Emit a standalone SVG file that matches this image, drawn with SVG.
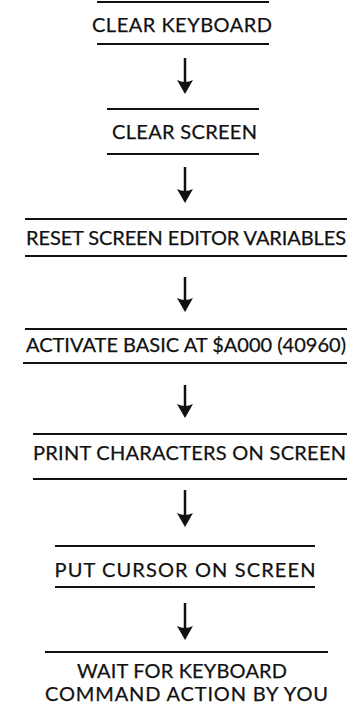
<svg xmlns="http://www.w3.org/2000/svg" width="358" height="718" viewBox="0 0 358 718">
<style>
.rule{stroke:#111;stroke-width:2;fill:none}
.lbl{font-family:Lato,"Open Sans","Liberation Sans",sans-serif;font-size:20px;fill:#111;stroke:#111;stroke-width:0.25;text-anchor:middle}
.conn{stroke:#111;stroke-width:2.5;fill:none}
</style>
<defs>
<marker id="ah" markerUnits="userSpaceOnUse" viewBox="0 0 14 16" markerWidth="14" markerHeight="16" refX="10" refY="8" orient="auto">
<path d="M0,0 Q4,8 0,16 L14,8 Z" fill="#111"/>
</marker>
</defs>
<rect width="358" height="718" fill="#fff"/>
<g id="n1">
<line class="rule" x1="97" y1="2" x2="269" y2="2"/>
<text class="lbl" x="182" y="31.5" textLength="180">CLEAR KEYBOARD</text>
<line class="rule" x1="97" y1="44" x2="269" y2="44"/>
</g>
<g id="n2">
<line class="rule" x1="107" y1="109" x2="259" y2="109"/>
<text class="lbl" x="184.5" y="138.5" textLength="145">CLEAR SCREEN</text>
<line class="rule" x1="107" y1="154" x2="259" y2="154"/>
</g>
<g id="n3">
<line class="rule" x1="25" y1="219" x2="347" y2="219"/>
<text class="lbl" x="186" y="245" textLength="320">RESET SCREEN EDITOR VARIABLES</text>
<line class="rule" x1="25" y1="256" x2="347" y2="256"/>
</g>
<g id="n4">
<line class="rule" x1="25" y1="329" x2="347" y2="329"/>
<text class="lbl" x="186" y="351.5" textLength="320">ACTIVATE BASIC AT $A000 (40960)</text>
<line class="rule" x1="23" y1="363" x2="347" y2="363"/>
</g>
<g id="n5">
<line class="rule" x1="33" y1="434" x2="347" y2="434"/>
<text class="lbl" x="189.5" y="459.5" textLength="313">PRINT CHARACTERS ON SCREEN</text>
<line class="rule" x1="33" y1="479" x2="347" y2="479"/>
</g>
<g id="n6">
<line class="rule" x1="55" y1="546" x2="315" y2="546"/>
<text class="lbl" x="185" y="577" textLength="261">PUT CURSOR ON SCREEN</text>
<line class="rule" x1="55" y1="587" x2="315" y2="587"/>
</g>
<g id="n7">
<line class="rule" x1="45" y1="652" x2="328" y2="652"/>
<text class="lbl" x="182" y="678" textLength="210">WAIT FOR KEYBOARD</text>
<text class="lbl" x="186.5" y="701" textLength="283">COMMAND ACTION BY YOU</text>
</g>
<g id="connectors">
<line class="conn" x1="185" y1="58" x2="185" y2="90" marker-end="url(#ah)"/>
<line class="conn" x1="185" y1="167" x2="185" y2="199" marker-end="url(#ah)"/>
<line class="conn" x1="185" y1="277" x2="185" y2="308" marker-end="url(#ah)"/>
<line class="conn" x1="185" y1="385" x2="185" y2="414" marker-end="url(#ah)"/>
<line class="conn" x1="185" y1="490" x2="185" y2="523" marker-end="url(#ah)"/>
<line class="conn" x1="185" y1="603" x2="185" y2="636" marker-end="url(#ah)"/>
</g>
</svg>
